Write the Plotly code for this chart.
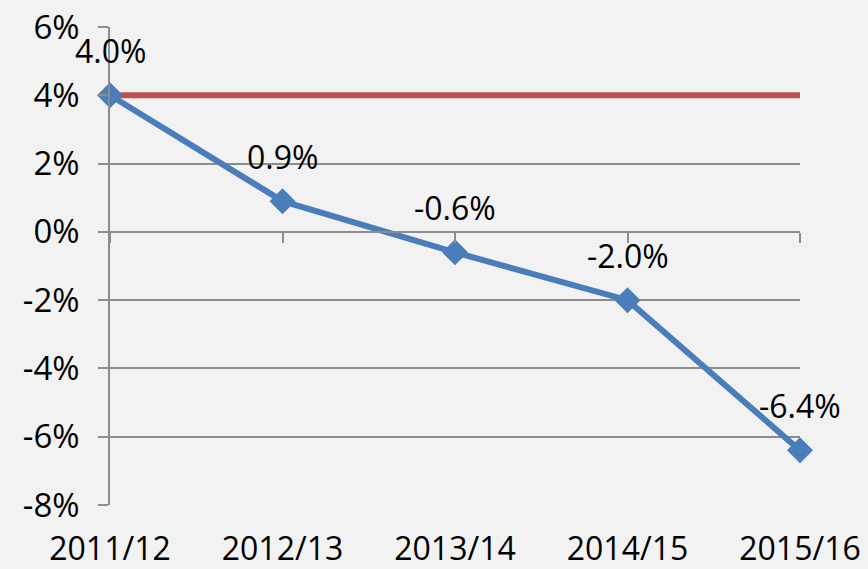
import plotly.graph_objects as go

categories = ["2011/12", "2012/13", "2013/14", "2014/15", "2015/16"]
actual = [4.0, 0.9, -0.6, -2.0, -6.4]
target = [4.0, 4.0, 4.0, 4.0, 4.0]
label_text = ["4.0%", "0.9%", "-0.6%", "-2.0%", "-6.4%"]
y_tickvals = [6, 4, 2, 0, -2, -4, -6, -8]
y_ticktext = ["6%", "4%", "2%", "0%", "-2%", "-4%", "-6%", "-8%"]

FONT = "Open Sans"
GRID = "#8c8c8c"
BG = "#f2f2f2"

fig = go.Figure()
fig.add_trace(go.Scatter(x=categories, y=target, mode="lines",
                         line=dict(color="#c0504d", width=6),
                         cliponaxis=False, showlegend=False, hoverinfo="skip"))
fig.add_trace(go.Scatter(x=categories, y=actual, mode="lines+markers",
                         line=dict(color="#4a7ebb", width=6),
                         marker=dict(symbol="diamond", size=20, color="#4a7ebb"),
                         cliponaxis=False, showlegend=False))
# helper trace for the zero-line axis with ticks
fig.add_trace(go.Scatter(x=categories, y=[None]*len(categories), xaxis="x2",
                         mode="lines", showlegend=False, hoverinfo="skip"))

for c, v, t in zip(categories, actual, label_text):
    fig.add_annotation(x=c, y=v, text=t, showarrow=False, yshift=45,
                       font=dict(family=FONT, size=32, color="#000000"))

ymin, ymax = -8, 6
fig.update_layout(
    width=868, height=569,
    margin=dict(l=110, r=68, t=27, b=64, autoexpand=False),
    paper_bgcolor=BG, plot_bgcolor=BG,
    font=dict(family=FONT, size=32, color="#000000"),
    xaxis=dict(type="category", range=[0, len(categories) - 1],
               showgrid=False, showline=False, zeroline=False, automargin=False,
               ticks="outside", ticklen=16, tickcolor="rgba(0,0,0,0)",
               tickfont=dict(size=32)),
    xaxis2=dict(type="category", range=[0, len(categories) - 1],
                overlaying="x", anchor="free", automargin=False,
                position=(0 - ymin) / (ymax - ymin),
                showgrid=False, showline=True, linecolor=GRID, linewidth=1.5,
                ticks="outside", ticklen=10, tickcolor=GRID, tickwidth=1.5,
                showticklabels=False, zeroline=False),
    yaxis=dict(range=[ymin, ymax], tickvals=y_tickvals, ticktext=y_ticktext,
               showgrid=True, gridcolor=GRID, gridwidth=1.5, automargin=False,
               showline=True, linecolor=GRID, linewidth=1.5,
               ticks="outside", ticklen=10, tickcolor=GRID, tickwidth=1.5,
               zeroline=False, ticklabelstandoff=12,
               tickfont=dict(size=33)),
)

fig.write_html("out.html", config={"displayModeBar": False},
               post_script="document.body.style.margin='0';document.body.style.overflow='hidden';")
